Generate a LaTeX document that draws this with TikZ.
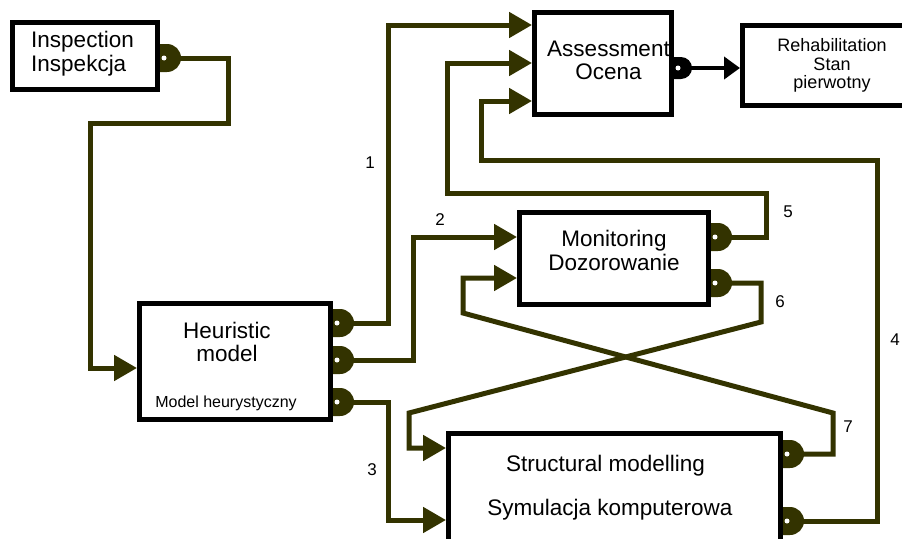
\documentclass[tikz,border=0pt]{standalone}
\usepackage{fontspec}
\setmainfont{Liberation Sans}
\usetikzlibrary{arrows.meta}
\definecolor{olivedark}{RGB}{51,51,0}
\tikzset{
every node/.style={inner sep=0pt, align=center, font=\fontsize{22.5}{23.5}\selectfont},
box/.style={rectangle, draw=black, line width=5pt, fill=white},
conn/.style={draw=olivedark, line width=5pt, -{Triangle[length=23pt,width=25pt]}},
num/.style={font=\fontsize{17}{20}\selectfont}
}
% half-round socket on a box side: [colour]{point}{radius}
\newcommand{\socket}[3][olivedark]{%
\fill[#1] (#2) ++(0,-#3) -- ++(7,0) arc[start angle=-90,end angle=90,radius=#3] -- ++(-7,0) -- cycle;
\fill[white] (#2) ++(4,0) circle[radius=2.5];
}

\begin{document}
\begin{tikzpicture}[x=1pt,y=-1pt]
\useasboundingbox (0,0) rectangle (902,538);
\clip (0,0) rectangle (902,538);

\node [box, minimum width=145, minimum height=67] (insp) at (85,56) {};
\node [box, minimum width=191, minimum height=116] (heur) at (235,361.5) {};
\node [box, minimum width=137, minimum height=102] (assess) at (603,63.5) {};
\node [box, minimum width=179, minimum height=80, font=\fontsize{18}{18.5}\selectfont] (rehab) at (832,65.5) {Rehabilitation\\Stan\\pierwotny};
\node [box, minimum width=189, minimum height=92] (monit) at (614,258.5) {};
\node [box, minimum width=332, minimum height=112] (struct) at (614.5,489.5) {};

\node [align=left] (insptxt) at (82.5,53.6) {Inspection\\Inspekcja};
\node (heurtxt) at (227,342) {Heuristic\\model};
\node [font=\fontsize{16}{18}\selectfont] (heursub) at (226,403) {Model heurystyczny};
\node (assesstxt) at (608.5,60.5) {Assessment\\Ocena};
\node (monittxt) at (614,250.5) {Monitoring\\Dozorowanie};
\node [anchor=base] (structtxt) at (605.5,471.5) {Structural modelling};
\node [anchor=base] (structsub) at (610,515) {Symulacja komputerowa};

\draw[conn] (insp.east |- 0,58) -| (228,123) -| (90,368) -- (heur.west |- 0,368);
\draw[conn] (heur.east |- 0,323) -| (388,25) -- (assess.west |- 0,25);
\draw[conn] (heur.east |- 0,360) -| (413,237) -- (monit.west |- 0,237);
\draw[conn] (heur.east |- 0,402) -| (388,520) -- (struct.west |- 0,520);
\draw[conn] (struct.east |- 0,521) -| (877,160) -| (481,101) -- (assess.west |- 0,101);
\draw[conn] (monit.east |- 0,237) -| (766,193) -| (447,63) -- (assess.west |- 0,63);
\draw[conn] (monit.east |- 0,283) -| (761,322) -- (409,413) |- (struct.west |- 0,448);
\draw[conn] (struct.east |- 0,454) -| (833,413) -- (463,313) |- (monit.west |- 0,278);
\draw[conn, draw=black, line width=4pt, -{Triangle[length=16pt,width=22pt]}] (assess.east |- 0,68) -- (rehab.west |- 0,68);

\socket{insp.east |- 0,58}{14}
\socket{heur.east |- 0,323}{14}
\socket{heur.east |- 0,360}{14}
\socket{heur.east |- 0,402}{14}
\socket{monit.east |- 0,237}{14}
\socket{monit.east |- 0,283}{14}
\socket{struct.east |- 0,454}{14}
\socket{struct.east |- 0,521}{14}
\socket[black]{assess.east |- 0,68}{11}

\node [num] (n1) at (370,163) {1};
\node [num] (n2) at (440,220) {2};
\node [num] (n3) at (372,470) {3};
\node [num] (n4) at (895,340) {4};
\node [num] (n5) at (788,212) {5};
\node [num] (n6) at (780,302) {6};
\node [num] (n7) at (848,427) {7};
\end{tikzpicture}
\end{document}
